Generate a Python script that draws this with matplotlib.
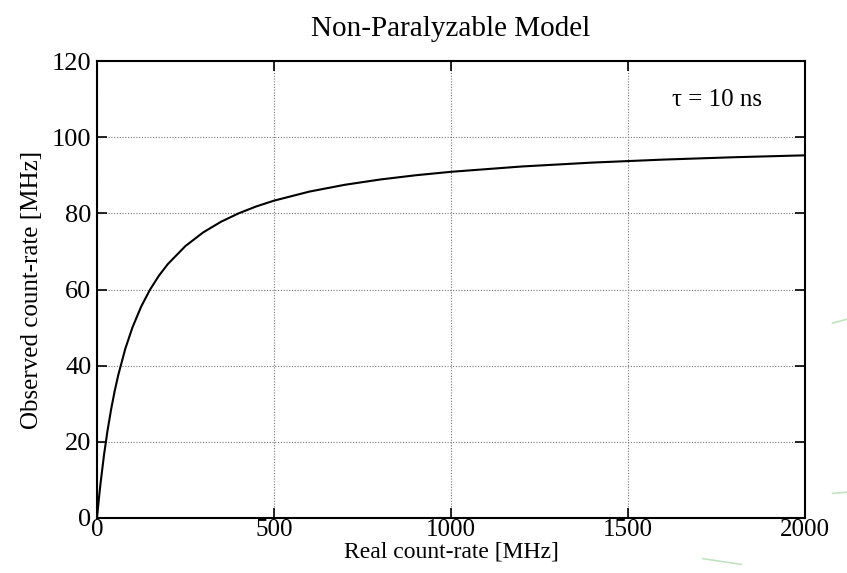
import numpy as np
import matplotlib
matplotlib.use("Agg")
import matplotlib.pyplot as plt
from matplotlib.lines import Line2D

# dead time of the detector, in ns
tau_ns = 10

# real count-rate samples [MHz]
real_rate = [0, 5, 10, 20, 30, 40, 50, 60, 80, 100, 125, 150, 175, 200, 250,
             300, 350, 400, 450, 500, 600, 700, 800, 900, 1000, 1200, 1400,
             1600, 1800, 2000]

x_ticks = [0, 500, 1000, 1500, 2000]
y_ticks = [0, 20, 40, 60, 80, 100, 120]

plt.rcParams["font.family"] = ["Liberation Serif", "DejaVu Serif"]


def observed(n, tau):
    # non-paralyzable dead time: m = n / (1 + n*tau), tau in us for MHz
    n = np.asarray(n, dtype=float)
    return n / (1.0 + n * tau * 1e-3)


fig = plt.figure(figsize=(8.47, 5.73), dpi=100)
ax = fig.add_axes([0.1145, 0.096, 0.836, 0.7975])

ax.plot(real_rate, observed(real_rate, tau_ns), color="black", lw=1.5)

ax.set_xlim(0, 2000)
ax.set_ylim(0, 120)
ax.set_xticks(x_ticks)
ax.set_yticks(y_ticks)
ax.grid(True, color="#777777", linestyle=(0, (1, 1.5)), linewidth=0.8)
ax.tick_params(direction="in", length=7, width=1.2, top=True, right=True)
ax.tick_params(axis="x", pad=1, labelsize=18)
ax.tick_params(axis="y", pad=4, labelsize=19)
for s in ax.spines.values():
    s.set_linewidth(1.5)

ax.set_title("Non-Paralyzable Model", fontsize=21, pad=18)
ax.set_xlabel("Real count-rate [MHz]", fontsize=17, labelpad=0)
ax.set_ylabel("Observed count-rate [MHz]", fontsize=18, labelpad=6)
ax.text(0.876, 0.915, "\u03c4 = %d ns" % tau_ns, transform=ax.transAxes,
        fontsize=18, ha="center", va="center")

# faint green strokes of the page background at the right edge
for xs, ys in [((0.983, 1.0), (0.436, 0.443)),
               ((0.983, 1.0), (0.139, 0.141)),
               ((0.83, 0.875), (0.025, 0.015))]:
    fig.add_artist(Line2D(xs, ys, transform=fig.transFigure,
                          color="#9ccf9c", lw=1.2, alpha=0.6))

fig.savefig("out.png", dpi=100)
